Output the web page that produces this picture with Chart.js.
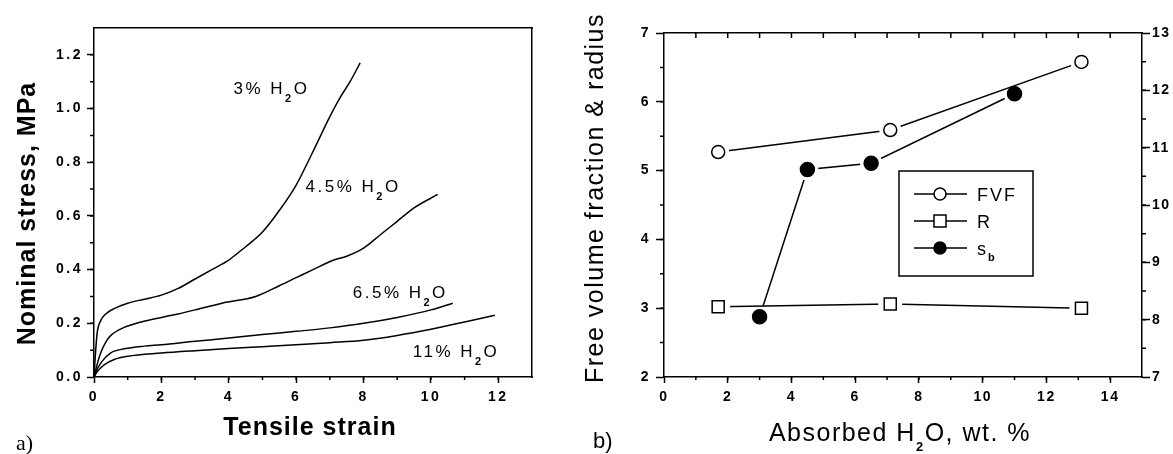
<!DOCTYPE html>
<html>
<head>
<meta charset="utf-8">
<script src="https://cdn.jsdelivr.net/npm/chart.js@4.4.0/dist/chart.umd.min.js"></script>
<style>
  html, body { margin: 0; padding: 0; background: #fff; }
  body { width: 1173px; height: 454px; position: relative; overflow: hidden; }
  .panel { position: absolute; top: 0; height: 454px; }
  #panel-a { left: 0; width: 550px; }
  #panel-b { left: 550px; width: 623px; }
</style>
</head>
<body>
<div class="panel" id="panel-a"><canvas id="chart-a"></canvas></div>
<div class="panel" id="panel-b"><canvas id="chart-b"></canvas></div>
<script>
// ---- panel a: stress vs strain, one curve per water content ----
const waterContents = ['3%', '4.5%', '6.5%', '11%'];

const strain3 = [0, 0.05, 0.1, 0.2, 0.35, 0.6, 1, 1.5, 2, 2.5, 3, 3.5, 4, 4.1, 4.5, 5, 5.5, 6, 6.5, 7, 7.3, 7.6, 7.9];
const stress3 = [0, 0.1, 0.17, 0.21, 0.235, 0.255, 0.275, 0.29, 0.305, 0.33, 0.365, 0.40, 0.435, 0.445, 0.485, 0.54, 0.62, 0.715, 0.84, 0.97, 1.04, 1.10, 1.17];

const strain45 = [0, 0.1, 0.2, 0.35, 0.5, 0.9, 1.4, 2, 2.5, 3, 3.8, 4.8, 5.5, 6, 6.5, 7.1, 7.5, 8, 8.5, 9, 9.5, 10.2];
const stress45 = [0, 0.05, 0.09, 0.13, 0.155, 0.185, 0.205, 0.222, 0.235, 0.25, 0.275, 0.30, 0.34, 0.37, 0.40, 0.435, 0.45, 0.48, 0.53, 0.58, 0.63, 0.68];

const strain65 = [0, 0.1, 0.25, 0.5, 0.9, 1.5, 2, 3, 4, 5, 6, 7, 8, 9, 10, 10.65];
const stress65 = [0, 0.03, 0.06, 0.09, 0.105, 0.115, 0.12, 0.133, 0.145, 0.158, 0.17, 0.183, 0.2, 0.222, 0.25, 0.275];

const strain11 = [0, 0.1, 0.3, 0.6, 1, 2, 3, 4, 5, 6, 7, 8, 9, 10, 11, 11.9];
const stress11 = [0, 0.02, 0.045, 0.065, 0.077, 0.089, 0.098, 0.106, 0.113, 0.12, 0.128, 0.137, 0.155, 0.178, 0.205, 0.23];

const strainTicks = [0, 2, 4, 6, 8, 10, 12];
const stressTicks = [0, 0.2, 0.4, 0.6, 0.8, 1.0, 1.2];

// ---- panel b: free volume fraction, radius (left axis) and s_b (right axis) ----
const waterFVF = [1.7, 7.1, 13.1];
const fvf = [5.27, 5.59, 6.58];
const waterR = [1.7, 7.1, 13.1];
const radius = [3.02, 3.06, 3.0];
const waterSb = [3.0, 4.5, 6.5, 11.0];
const sb = [8.05, 10.62, 10.73, 11.94];

const waterTicks = [0, 2, 4, 6, 8, 10, 12, 14];
const leftTicks = [2, 3, 4, 5, 6, 7];
const rightTicks = [7, 8, 9, 10, 11, 12, 13];

const SANS = '"Liberation Sans", Arial, sans-serif';
Chart.defaults.color = '#000';
Chart.defaults.font.family = SANS;

const pts = (xs, ys) => xs.map((x, i) => ({ x: x, y: ys[i] }));

function drawRich(ctx, parts, x, y, opt) {
  ctx.save();
  ctx.letterSpacing = opt.spacing || '0px';
  ctx.fillStyle = '#000';
  ctx.textBaseline = 'alphabetic';
  ctx.textAlign = 'left';
  let w = 0;
  parts.forEach(p => { ctx.font = p[1] ? opt.subFont : opt.font; w += ctx.measureText(p[0]).width; });
  ctx.translate(x, y);
  if (opt.rotate) ctx.rotate(opt.rotate);
  let cx = opt.align === 'center' ? -w / 2 : 0;
  parts.forEach(p => {
    ctx.font = p[1] ? opt.subFont : opt.font;
    ctx.fillText(p[0], cx, p[1] ? opt.subShift : 0);
    cx += ctx.measureText(p[0]).width;
  });
  ctx.restore();
}

// canvas letter spacing for tick labels
const spacing = {
  id: 'spacing',
  beforeDraw(chart, args, opts) { chart.ctx.letterSpacing = opts.value || '0px'; }
};

// short unlabeled ticks between the labelled ones
const minorTicks = {
  id: 'minorTicks',
  afterDraw(chart, args, opts) {
    const { ctx, chartArea: ca } = chart;
    ctx.save();
    ctx.strokeStyle = '#000';
    ctx.lineWidth = 1.5;
    ctx.beginPath();
    (opts.axes || []).forEach(a => {
      const s = chart.scales[a.id];
      const n = Math.round((s.max - s.min) / a.step);
      for (let i = 1; i < n; i++) {
        const p = s.getPixelForValue(s.min + i * a.step);
        if (a.side === 'bottom') { ctx.moveTo(p, ca.bottom); ctx.lineTo(p, ca.bottom + a.len); }
        if (a.side === 'top') { ctx.moveTo(p, ca.top); ctx.lineTo(p, ca.top + a.len); }
        if (a.side === 'left') { ctx.moveTo(ca.left - a.len, p); ctx.lineTo(ca.left, p); }
        if (a.side === 'right') { ctx.moveTo(ca.right, p); ctx.lineTo(ca.right + a.len, p); }
      }
    });
    ctx.stroke();
    ctx.restore();
  }
};

const tickFont = { family: SANS, size: 14, weight: 'bold' };
const edge = { display: true, color: '#000', width: 1.5 };
const majorGrid = (len) => ({ drawOnChartArea: false, drawTicks: true, tickLength: len, tickWidth: 1.5, tickColor: '#000' });
const fixTicks = (vals) => (s) => { s.ticks = vals.map(v => ({ value: v })); };
const frameAxis = (pos, min, max, size) => ({
  type: 'linear', position: pos, min: min, max: max,
  ticks: { display: false }, grid: { display: false }, border: edge,
  afterFit: s => { if (pos === 'top') s.height = size; else s.width = size; }
});

// ---------------- chart a ----------------
const curveSpots = [{ x: 4.14, y: 1.056 }, { x: 6.28, y: 0.688 }, { x: 7.68, y: 0.294 }, { x: 9.46, y: 0.074 }];

const notesA = {
  id: 'notesA',
  afterDraw(chart) {
    const { ctx, chartArea: ca, scales } = chart;
    drawRich(ctx, [['Tensile strain']], ca.left + ca.width / 2 - 3, ca.bottom + 58,
      { font: 'bold 25px ' + SANS, spacing: '1px', align: 'center' });
    drawRich(ctx, [['Nominal stress, MPa']], 35, ca.top + ca.height / 2 + 11,
      { font: 'bold 25px ' + SANS, spacing: '1px', align: 'center', rotate: -Math.PI / 2 });
    drawRich(ctx, [['a)']], 16, 450, { font: '22px "Liberation Serif", serif' });
    waterContents.forEach((w, i) => {
      const spot = curveSpots[i];
      drawRich(ctx, [[w + ' H'], ['2', true], ['O']],
        scales.x.getPixelForValue(spot.x), scales.y.getPixelForValue(spot.y),
        { font: '17px ' + SANS, subFont: 'bold 11px ' + SANS, subShift: 8, spacing: '2.5px' });
    });
  }
};

const curveLine = (xs, ys) => ({
  data: pts(xs, ys), borderColor: '#000', borderWidth: 1.5, pointRadius: 0,
  cubicInterpolationMode: 'monotone', fill: false
});

new Chart(document.getElementById('chart-a'), {
  type: 'line',
  data: {
    datasets: [
      curveLine(strain3, stress3),
      curveLine(strain45, stress45),
      curveLine(strain65, stress65),
      curveLine(strain11, stress11)
    ]
  },
  options: {
    responsive: true, maintainAspectRatio: false, animation: false,
    layout: { padding: { top: 28, right: 18, left: 0, bottom: 0 } },
    plugins: {
      legend: { display: false }, tooltip: { enabled: false },
      spacing: { value: '2.5px' },
      minorTicks: { axes: [
        { id: 'x', step: 1, len: 3, side: 'bottom' },
        { id: 'y', step: 0.1, len: 4, side: 'left' }
      ] }
    },
    scales: {
      x: {
        type: 'linear', position: 'bottom', min: 0, max: 13,
        afterBuildTicks: fixTicks(strainTicks),
        ticks: { font: tickFont, padding: 6, maxRotation: 0, autoSkip: false, callback: v => String(v) },
        grid: majorGrid(6), border: edge,
        afterFit: s => { s.height = 77; }
      },
      y: {
        type: 'linear', position: 'left', min: 0, max: 1.3,
        afterBuildTicks: fixTicks(stressTicks),
        ticks: { font: tickFont, padding: 4, autoSkip: false, callback: v => v.toFixed(1) },
        grid: majorGrid(7), border: edge,
        afterFit: s => { s.width = 94; }
      },
      xTop: frameAxis('top', 0, 13, 0),
      yRight: frameAxis('right', 0, 1.3, 0)
    }
  },
  plugins: [spacing, minorTicks, notesA]
});

// ---------------- chart b ----------------
const notesB = {
  id: 'notesB',
  afterDraw(chart) {
    const { ctx, chartArea: ca } = chart;
    drawRich(ctx, [['Absorbed H'], ['2', true], ['O, wt. %']], ca.left + ca.width / 2 - 3, ca.bottom + 64,
      { font: '25px ' + SANS, subFont: 'bold 13px ' + SANS, subShift: 10, spacing: '1.5px', align: 'center' });
    drawRich(ctx, [['Free volume fraction & radius']], 53, 198,
      { font: '25px ' + SANS, spacing: '1.5px', align: 'center', rotate: -Math.PI / 2 });
    drawRich(ctx, [['b)']], 43, 448, { font: '22px ' + SANS });

    // legend box
    const bx = ca.left + 235, by = ca.top + 138, bw = 134, bh = 105;
    ctx.save();
    ctx.letterSpacing = '0px';
    ctx.strokeStyle = '#000';
    ctx.lineWidth = 1.5;
    ctx.strokeRect(bx, by, bw, bh);
    const rows = [
      { label: [['FVF']], mark: 'circle' },
      { label: [['R']], mark: 'rect' },
      { label: [['s'], ['b', true]], mark: 'dot' }
    ];
    rows.forEach((r, i) => {
      const ry = by + 23 + i * 27;
      ctx.beginPath();
      ctx.moveTo(bx + 15, ry); ctx.lineTo(bx + 68, ry);
      ctx.stroke();
      const mx = bx + 41;
      ctx.beginPath();
      if (r.mark === 'rect') ctx.rect(mx - 6, ry - 6, 12, 12);
      else ctx.arc(mx, ry, 6, 0, Math.PI * 2);
      ctx.fillStyle = r.mark === 'dot' ? '#000' : '#fff';
      ctx.fill();
      ctx.stroke();
      drawRich(ctx, r.label, bx + 78, ry + 6.5,
        { font: '18px ' + SANS, subFont: 'bold 11px ' + SANS, subShift: 6, spacing: '2px' });
    });
    ctx.restore();
  }
};

// line with white halo round each point, so the line stops short of the marker
const haloLine = (xs, ys, axis, halo, order) => ({
  data: pts(xs, ys), yAxisID: axis, order: order,
  borderColor: '#000', borderWidth: 1.5, tension: 0,
  pointRadius: halo, pointBackgroundColor: '#fff', pointBorderColor: '#fff', pointBorderWidth: 0
});
const markers = (xs, ys, axis, style, r, fill, order) => ({
  data: pts(xs, ys), yAxisID: axis, order: order, showLine: false,
  pointStyle: style, pointRadius: r, pointBackgroundColor: fill,
  pointBorderColor: '#000', pointBorderWidth: 1.5
});

new Chart(document.getElementById('chart-b'), {
  type: 'line',
  data: {
    datasets: [
      haloLine(waterSb, sb, 'y2', 11, 6),
      haloLine(waterR, radius, 'y', 12, 5),
      haloLine(waterFVF, fvf, 'y', 11, 4),
      markers(waterSb, sb, 'y2', 'circle', 7, '#000', 3),
      markers(waterR, radius, 'y', 'rect', 8.5, '#fff', 2),
      markers(waterFVF, fvf, 'y', 'circle', 6.5, '#fff', 1)
    ]
  },
  options: {
    responsive: true, maintainAspectRatio: false, animation: false,
    layout: { padding: { top: 33, right: 0, left: 0, bottom: 0 } },
    plugins: {
      legend: { display: false }, tooltip: { enabled: false },
      spacing: { value: '1.5px' },
      minorTicks: { axes: [
        { id: 'x', step: 1, len: 3, side: 'bottom' },
        { id: 'x', step: 1, len: 5, side: 'top' },
        { id: 'y', step: 0.5, len: 4, side: 'left' },
        { id: 'y2', step: 0.5, len: 4, side: 'right' }
      ] }
    },
    scales: {
      x: {
        type: 'linear', position: 'bottom', min: 0, max: 15,
        afterBuildTicks: fixTicks(waterTicks),
        ticks: { font: tickFont, padding: 6, maxRotation: 0, autoSkip: false, callback: v => String(v) },
        grid: majorGrid(6), border: edge,
        afterFit: s => { s.height = 77; }
      },
      y: {
        type: 'linear', position: 'left', min: 2, max: 7,
        afterBuildTicks: fixTicks(leftTicks),
        ticks: { font: tickFont, padding: 6, autoSkip: false, callback: v => String(v) },
        grid: majorGrid(8), border: edge,
        afterFit: s => { s.width = 114; }
      },
      y2: {
        type: 'linear', position: 'right', min: 7, max: 13,
        afterBuildTicks: fixTicks(rightTicks),
        ticks: { font: tickFont, padding: 2, autoSkip: false, callback: v => String(v) },
        grid: majorGrid(8), border: edge,
        afterFit: s => { s.width = 31; }
      },
      xTop: frameAxis('top', 0, 15, 0)
    }
  },
  plugins: [spacing, minorTicks, notesB]
});
</script>
</body>
</html>
